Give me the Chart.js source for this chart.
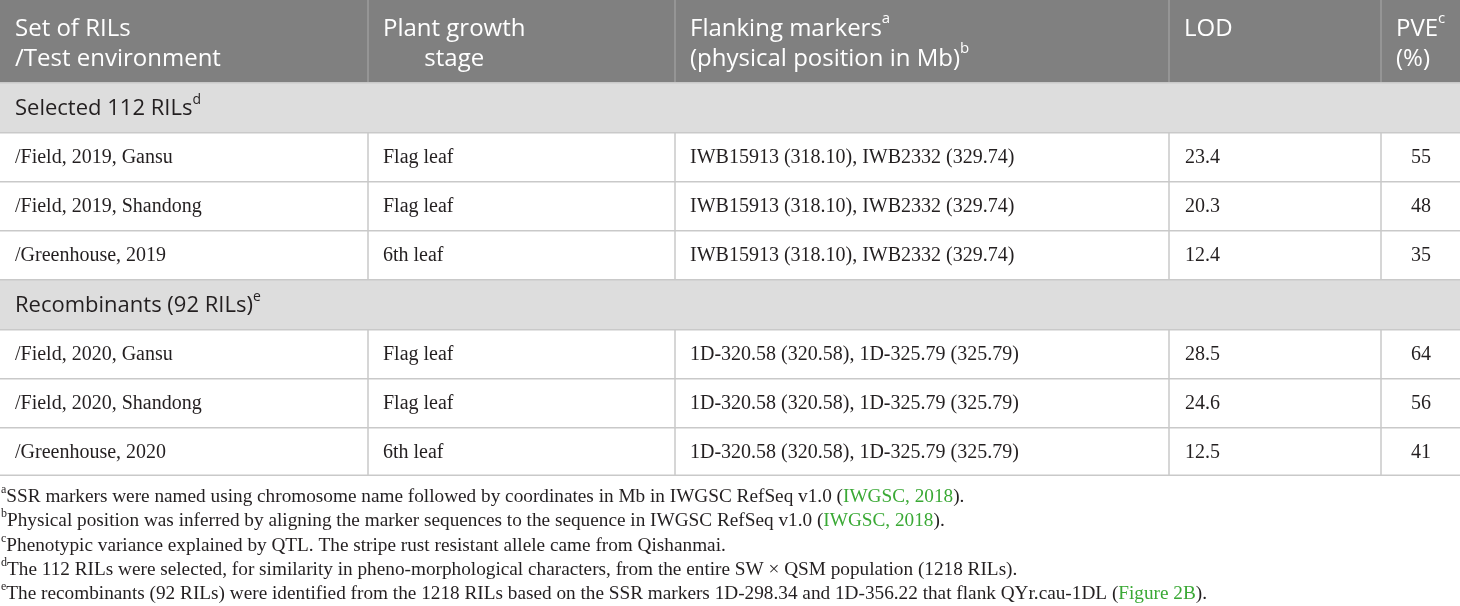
<!DOCTYPE html>
<html>
<head>
<meta charset="utf-8">
<script src="https://cdn.jsdelivr.net/npm/chart.js@4.4.0/dist/chart.umd.min.js"></script>
<style>
  html, body { margin: 0; padding: 0; background: #fff; }
  #wrap { width: 1460px; height: 606px; }
</style>
</head>
<body>
<div id="wrap"><canvas id="qtlTable" width="1460" height="606"></canvas></div>
<script>
// table content
const headerLine1 = ['Set of RILs', 'Plant growth', 'Flanking markers', 'LOD', 'PVE'];
const headerLine2 = ['/Test environment', 'stage', '(physical position in Mb)', '', '(%)'];
const headerSup1 = ['', '', 'a', '', 'c'];
const headerSup2 = ['', '', 'b', '', ''];

const groups = ['Selected 112 RILs', 'Recombinants (92 RILs)'];
const groupSup = ['d', 'e'];

const environments = [
  ['/Field, 2019, Gansu', '/Field, 2019, Shandong', '/Greenhouse, 2019'],
  ['/Field, 2020, Gansu', '/Field, 2020, Shandong', '/Greenhouse, 2020']
];
const stages = [
  ['Flag leaf', 'Flag leaf', '6th leaf'],
  ['Flag leaf', 'Flag leaf', '6th leaf']
];
const markers = [
  ['IWB15913 (318.10), IWB2332 (329.74)', 'IWB15913 (318.10), IWB2332 (329.74)', 'IWB15913 (318.10), IWB2332 (329.74)'],
  ['1D-320.58 (320.58), 1D-325.79 (325.79)', '1D-320.58 (320.58), 1D-325.79 (325.79)', '1D-320.58 (320.58), 1D-325.79 (325.79)']
];
const lod = [[23.4, 20.3, 12.4], [28.5, 24.6, 12.5]];
const pve = [[55, 48, 35], [64, 56, 41]];

const footnoteKeys = ['a', 'b', 'c', 'd', 'e'];
const footnotes = [
  [['SSR markers were named using chromosome name followed by coordinates in Mb in IWGSC RefSeq v1.0 ('], ['IWGSC, 2018', 'link'], [').']],
  [['Physical position was inferred by aligning the marker sequences to the sequence in IWGSC RefSeq v1.0 ('], ['IWGSC, 2018', 'link'], [').']],
  [['Phenotypic variance explained by QTL. The stripe rust resistant allele came from Qishanmai.']],
  [['The 112 RILs were selected, for similarity in pheno-morphological characters, from the entire SW \u00d7 QSM population (1218 RILs).']],
  [['The recombinants (92 RILs) were identified from the 1218 RILs based on the SSR markers 1D-298.34 and 1D-356.22 that flank QYr.cau-1DL ('], ['Figure 2B', 'link'], [').']]
];

// layout (in table units)
const colEdges = [0, 368, 675, 1169, 1381, 1460];
const headerH = 82;
const groupH = 50;
const rowH = 49;
const noteTop = 497;
const noteStep = 24.3;

const HEAD_BG = '#808080';
const HEAD_RULE = '#9c9c9c';
const GROUP_BG = '#dddddd';
const RULE = '#c9c9c9';
const TEXT = '#231f20';
const LINK = '#3aa935';
const SANS = '"Open Sans", Lato, sans-serif';
const SERIF = '"Liberation Serif", "DejaVu Serif", serif';

function richText(ctx, x, y, parts, size, family, color) {
  let cx = x;
  parts.forEach(p => {
    const sup = p.sup;
    const fs = sup ? Math.round(size * 0.62) : size;
    ctx.font = fs + 'px ' + family;
    ctx.fillStyle = p.color || color;
    ctx.fillText(p.text, cx, sup ? y - size * 0.42 : y);
    cx += ctx.measureText(p.text).width;
  });
  return cx - x;
}

const tablePlugin = {
  id: 'tablePlugin',
  afterDraw(chart) {
    const ctx = chart.ctx;
    const sx = chart.scales.x, sy = chart.scales.y;
    const px = v => sx.getPixelForValue(v);
    const py = v => sy.getPixelForValue(v);
    const left = px(colEdges[0]), right = px(colEdges[colEdges.length - 1]);

    ctx.save();
    ctx.fillStyle = '#fff';
    ctx.fillRect(0, 0, chart.width, chart.height);
    ctx.textBaseline = 'middle';

    // header
    ctx.fillStyle = HEAD_BG;
    ctx.fillRect(left, py(0), right - left, py(headerH) - py(0));
    ctx.strokeStyle = HEAD_RULE;
    ctx.lineWidth = 1.5;
    for (let c = 1; c < colEdges.length - 1; c++) {
      ctx.beginPath();
      ctx.moveTo(px(colEdges[c]), py(0));
      ctx.lineTo(px(colEdges[c]), py(headerH));
      ctx.stroke();
    }
    headerLine1.forEach((t, c) => {
      const x = px(colEdges[c] + 15);
      ctx.textAlign = 'left';
      const w = richText(ctx, x, py(29), [{ text: t }, { text: headerSup1[c], sup: true }], 24, SANS, '#fff');
      if (headerLine2[c]) {
        let x2 = x;
        if (c === 1) {
          ctx.font = '24px ' + SANS;
          x2 = x + (w - ctx.measureText(headerLine2[c]).width) / 2;
        }
        richText(ctx, x2, py(59), [{ text: headerLine2[c] }, { text: headerSup2[c], sup: true }], 24, SANS, '#fff');
      }
    });

    // body
    let top = headerH;
    groups.forEach((g, gi) => {
      ctx.fillStyle = GROUP_BG;
      ctx.fillRect(left, py(top), right - left, py(top + groupH) - py(top));
      richText(ctx, px(15), py(top + groupH / 2 + 2), [{ text: g }, { text: groupSup[gi], sup: true }], 22, SANS, TEXT);
      ctx.strokeStyle = RULE;
      ctx.lineWidth = 1.5;
      ctx.beginPath();
      ctx.moveTo(left, py(top) + 0.75); ctx.lineTo(right, py(top) + 0.75);
      ctx.stroke();
      top += groupH;

      environments[gi].forEach((env, r) => {
        const y0 = py(top), y1 = py(top + rowH), ym = (y0 + y1) / 2 + 1;
        ctx.strokeStyle = RULE;
        ctx.lineWidth = 1.5;
        ctx.beginPath();
        ctx.moveTo(left, y0 + 0.75); ctx.lineTo(right, y0 + 0.75);
        for (let c = 1; c < colEdges.length - 1; c++) {
          ctx.moveTo(px(colEdges[c]), y0); ctx.lineTo(px(colEdges[c]), y1);
        }
        ctx.stroke();

        ctx.font = '20px ' + SERIF;
        ctx.fillStyle = TEXT;
        ctx.textAlign = 'left';
        ctx.fillText(env, px(colEdges[0] + 15), ym);
        ctx.fillText(stages[gi][r], px(colEdges[1] + 15), ym);
        ctx.fillText(markers[gi][r], px(colEdges[2] + 15), ym);
        ctx.fillText(lod[gi][r].toFixed(1), px(colEdges[3] + 16), ym);
        ctx.textAlign = 'right';
        ctx.fillText(String(pve[gi][r]), px(colEdges[5] - 29), ym);
        ctx.textAlign = 'left';
        top += rowH;
      });
    });
    ctx.strokeStyle = RULE;
    ctx.lineWidth = 1.5;
    ctx.beginPath();
    ctx.moveTo(left, py(top) - 0.75); ctx.lineTo(right, py(top) - 0.75);
    ctx.stroke();

    // footnotes
    footnotes.forEach((parts, i) => {
      const y = py(noteTop + i * noteStep);
      ctx.font = '12px ' + SERIF;
      ctx.fillStyle = TEXT;
      ctx.textAlign = 'left';
      ctx.fillText(footnoteKeys[i], px(1), y - 7);
      const kw = ctx.measureText(footnoteKeys[i]).width;
      richText(ctx, px(1) + kw, y, parts.map(p => ({ text: p[0], color: p[1] === 'link' ? LINK : null })), 19.25, SERIF, TEXT);
    });
    ctx.restore();
  }
};

new Chart(document.getElementById('qtlTable'), {
  type: 'scatter',
  data: { datasets: [{ data: [], pointRadius: 0 }] },
  options: {
    responsive: false,
    animation: false,
    layout: { padding: 0 },
    plugins: { legend: { display: false }, tooltip: { enabled: false } },
    scales: {
      x: { type: 'linear', min: 0, max: 1460, display: false },
      y: { type: 'linear', min: 0, max: 606, reverse: true, display: false }
    }
  },
  plugins: [tablePlugin]
});
</script>
</body>
</html>
